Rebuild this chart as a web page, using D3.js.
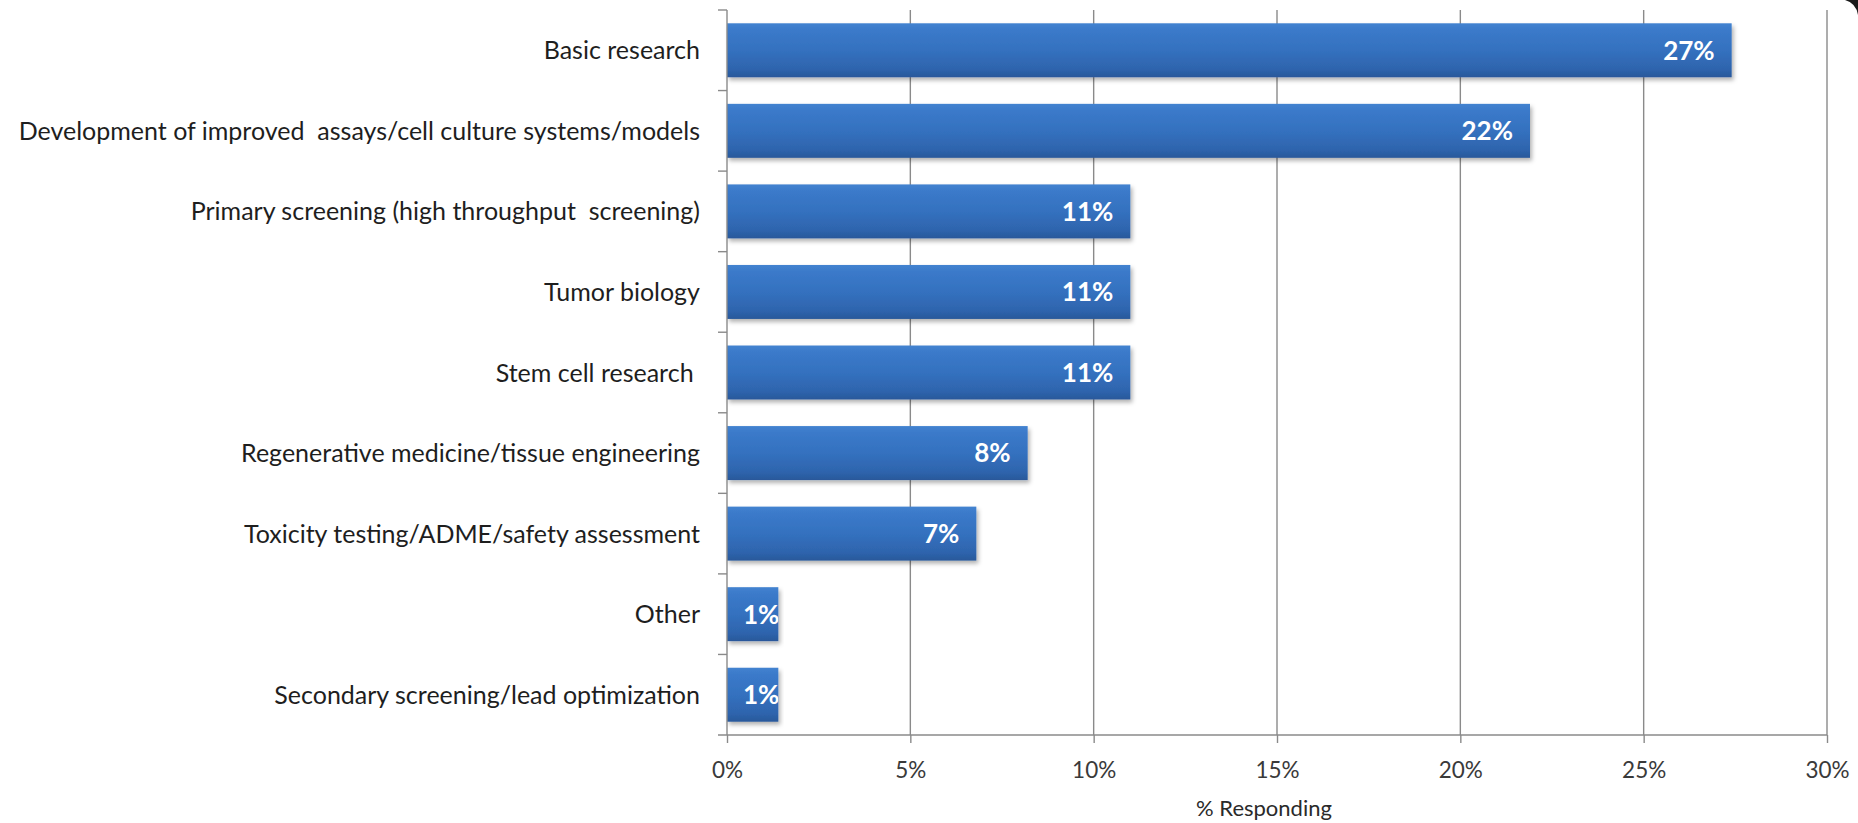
<!DOCTYPE html>
<html>
<head>
<meta charset="utf-8">
<script src="https://cdn.jsdelivr.net/npm/d3@7"></script>
<style>
  html, body { margin: 0; padding: 0; background: #ffffff; }
  svg { display: block; }
</style>
</head>
<body>
<svg id="chart" width="1858" height="823"></svg>
<script>
// Survey responses: area of use, share of respondents (%)
const categories = [
  "Basic research",
  "Development of improved  assays/cell culture systems/models",
  "Primary screening (high throughput  screening)",
  "Tumor biology",
  "Stem cell research ",
  "Regenerative medicine/tissue engineering",
  "Toxicity testing/ADME/safety assessment",
  "Other",
  "Secondary screening/lead optimization"
];
const values = [27.4, 21.9, 11.0, 11.0, 11.0, 8.2, 6.8, 1.4, 1.4];
const xTicks = [0, 5, 10, 15, 20, 25, 30];
const xTitle = "% Responding";

const FONT = "Lato, 'Open Sans', 'DejaVu Sans', sans-serif";
const svg = d3.select("#chart");

const plot = { left: 727, right: 1827, top: 10, bottom: 735 };

const x = d3.scaleLinear().domain([0, 30]).range([plot.left, plot.right]);
const y = d3.scaleBand()
  .domain(categories)
  .range([plot.top, plot.bottom])
  .paddingInner(0.33)
  .paddingOuter(0.165);

// Definitions: bar gradient and soft drop shadow
const defs = svg.append("defs");
const grad = defs.append("linearGradient")
  .attr("id", "barFill").attr("x1", 0).attr("y1", 0).attr("x2", 0).attr("y2", 1);
[["0%", "#4383d0"], ["12%", "#3b7aca"], ["50%", "#3471bf"], ["85%", "#2e64ad"], ["100%", "#29589a"]]
  .forEach(([o, c]) => grad.append("stop").attr("offset", o).attr("stop-color", c));

const shadow = defs.append("filter").attr("id", "barShadow")
  .attr("x", "-5%").attr("y", "-20%").attr("width", "115%").attr("height", "160%");
shadow.append("feDropShadow")
  .attr("dx", 2).attr("dy", 3).attr("stdDeviation", 2)
  .attr("flood-color", "#000").attr("flood-opacity", 0.3);

// Vertical gridlines
svg.append("g")
  .selectAll("line")
  .data(xTicks.filter(t => t > 0))
  .join("line")
  .attr("x1", d => x(d)).attr("x2", d => x(d))
  .attr("y1", plot.top).attr("y2", plot.bottom)
  .attr("stroke", "#8a8a8a").attr("stroke-width", 1.4);

// Bars
const bars = svg.append("g");
bars.selectAll("rect")
  .data(values)
  .join("rect")
  .attr("x", x(0))
  .attr("y", (d, i) => y(categories[i]))
  .attr("width", d => x(d) - x(0))
  .attr("height", y.bandwidth())
  .attr("fill", "url(#barFill)")
  .attr("filter", "url(#barShadow)");

// Clip paths so value labels stay inside their bars
values.forEach((d, i) => {
  defs.append("clipPath").attr("id", "clip" + i)
    .append("rect")
    .attr("x", x(0)).attr("y", y(categories[i]))
    .attr("width", x(d) - x(0)).attr("height", y.bandwidth());
});

// Value labels, inside end of each bar
const labels = svg.append("g")
  .attr("font-family", FONT)
  .attr("font-weight", "bold")
  .attr("font-size", 26)
  .attr("fill", "#ffffff");
labels.selectAll("text")
  .data(values)
  .join("text")
  .attr("clip-path", (d, i) => "url(#clip" + i + ")")
  .attr("y", (d, i) => y(categories[i]) + y.bandwidth() / 2)
  .attr("dy", "0.36em")
  .text(d => Math.round(d) + "%")
  .each(function(d) {
    const w = this.getComputedTextLength();
    const xs = Math.max(x(d) - 17 - w, x(0) + 16);
    d3.select(this).attr("x", xs);
  });

// X axis
const xAxis = svg.append("g")
  .attr("transform", `translate(0,${plot.bottom})`)
  .call(d3.axisBottom(x).tickValues(xTicks).tickFormat(d => d + "%").tickSize(8).tickPadding(19).tickSizeOuter(0));
xAxis.select(".domain").attr("stroke", "#8a8a8a").attr("stroke-width", 1.4)
  .attr("d", `M${plot.left - 9},0H${plot.right}`);
xAxis.selectAll(".tick line").attr("stroke", "#8a8a8a").attr("stroke-width", 1.4);
xAxis.selectAll(".tick text")
  .attr("font-family", FONT).attr("font-size", 22.5).attr("fill", "#3a3a3a");

// Y axis line and tick marks between categories
const yAxis = svg.append("g");
yAxis.append("line")
  .attr("x1", plot.left).attr("x2", plot.left)
  .attr("y1", plot.top).attr("y2", plot.bottom)
  .attr("stroke", "#8a8a8a").attr("stroke-width", 1.4);
const boundaries = d3.range(categories.length + 1).map(i => plot.top + i * y.step() - (i === 0 ? 0 : 0));
yAxis.selectAll(".ytick")
  .data(d3.range(categories.length))
  .join("line")
  .attr("class", "ytick")
  .attr("x1", plot.left - 9).attr("x2", plot.left)
  .attr("y1", i => y(categories[i]) - y.step() * y.paddingInner() / 2)
  .attr("y2", i => y(categories[i]) - y.step() * y.paddingInner() / 2)
  .attr("stroke", "#8a8a8a").attr("stroke-width", 1.4);

// Category labels
svg.append("g")
  .attr("font-family", FONT)
  .attr("font-size", 25)
  .attr("fill", "#1e1e1e")
  .attr("text-anchor", "end")
  .selectAll("text")
  .data(categories)
  .join("text")
  .attr("x", 700)
  .attr("y", d => y(d) + y.bandwidth() / 2)
  .attr("dy", "0.36em")
  .attr("xml:space", "preserve")
  .style("white-space", "pre")
  .text(d => d);

// Axis title
svg.append("text")
  .attr("x", 1264)
  .attr("y", 816)
  .attr("text-anchor", "middle")
  .attr("font-family", FONT)
  .attr("font-size", 22)
  .attr("fill", "#2a2a2a")
  .text(xTitle);

// Frame corner at the top right
svg.append("path")
  .attr("d", "M1845,0 L1858,0 L1858,15 Q1856,3 1845,0 Z")
  .attr("fill", "#1a1a1a");
</script>
</body>
</html>
